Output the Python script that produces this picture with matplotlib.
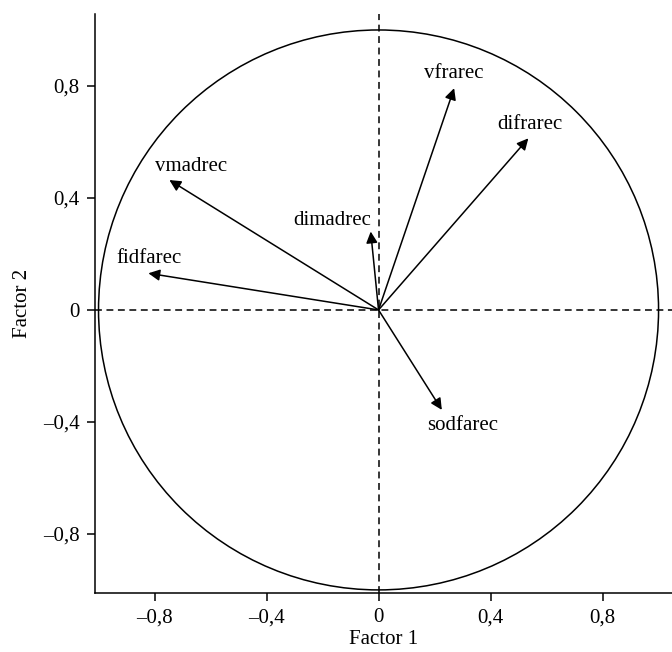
import numpy as np
import matplotlib
matplotlib.use('Agg')
import matplotlib.pyplot as plt
from matplotlib.patches import Circle

# loadings on factor 1 / factor 2
variables = ['vfrarec', 'difrarec', 'dimadrec', 'vmadrec', 'fidfarec', 'sodfarec']
factor1 = [0.27, 0.535, -0.028, -0.747, -0.822, 0.226]
factor2 = [0.792, 0.613, 0.28, 0.464, 0.131, -0.357]

# where each name sits (data coords)
label_x = [0.267, 0.539, -0.167, -0.67, -0.819, 0.30]
label_y = [0.843, 0.661, 0.321, 0.514, 0.185, -0.411]

ticks = [-0.8, -0.4, 0, 0.4, 0.8]
tick_labels = ['\u20130,8', '\u20130,4', '0', '0,4', '0,8']

plt.rcParams['font.family'] = ['Liberation Serif', 'DejaVu Serif']
fs = 15

fig = plt.figure(figsize=(6.72, 6.52), dpi=100)
ax = fig.add_axes([0.1414, 0.0905, 0.8586, 0.888])

ax.add_patch(Circle((0, 0), 1, fill=False, lw=1.1, color='black'))
ax.axhline(0, color='black', lw=1.1, ls=(0, (4.5, 3)))
ax.axvline(0, color='black', lw=1.1, ls=(0, (4.5, 3)))

for name, x, y, lx, ly in zip(variables, factor1, factor2, label_x, label_y):
    ax.annotate('', xy=(x, y), xytext=(0, 0),
                arrowprops=dict(arrowstyle='-|>', color='black', lw=1.1,
                                mutation_scale=17, shrinkA=0, shrinkB=0))
    ax.text(lx, ly, name, ha='center', va='center', fontsize=fs)

ax.set_xlim(-1.0125, 1.048)
ax.set_ylim(-1.011, 1.057)

for s in ['top', 'right']:
    ax.spines[s].set_visible(False)
for s in ['left', 'bottom']:
    ax.spines[s].set_linewidth(1.1)

ax.set_xticks(ticks)
ax.set_xticklabels(tick_labels)
ax.set_yticks(ticks)
ax.set_yticklabels(tick_labels)
ax.tick_params(direction='out', length=6, width=1.1, labelsize=fs, pad=5)

ax.set_xlabel('Factor 1', fontsize=fs, labelpad=2)
ax.set_ylabel('Factor 2', fontsize=fs, labelpad=8)

plt.savefig('out.png', dpi=100)
plt.close()
